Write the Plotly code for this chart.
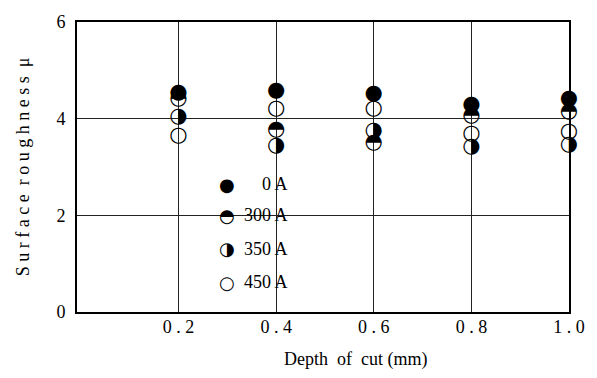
import plotly.graph_objects as go

# ---- data ----
depth = [0.2, 0.4, 0.6, 0.8, 1.0]
r_0A = [4.53, 4.58, 4.52, 4.28, 4.41]
r_300A = [4.42, 3.78, 3.50, 4.06, 4.15]
r_350A = [4.05, 3.45, 3.76, 3.42, 3.47]
r_450A = [3.65, 4.20, 4.20, 3.68, 3.72]
series_names = ["0 A", "300 A", "350 A", "450 A"]
x_ticks = [0.2, 0.4, 0.6, 0.8, 1.0]
x_ticklabels = ["0.2", "0.4", "0.6", "0.8", "1.0"]
y_ticks = [0, 2, 4, 6]
y_ticklabels = ["0", "2", "4", "6"]

SERIF = "Liberation Serif, Times New Roman, serif"
GLYPH_FONT = "DejaVu Sans"
glyphs = ["\u25CF", "\u25D3", "\u25D1", "\u25CB"]  # filled, upper-half, right-half, open


def spaced(s, sep=" "):
    return sep.join(list(s))


fig = go.Figure()
for vals, g, name in zip([r_0A, r_300A, r_350A, r_450A], glyphs, series_names):
    fig.add_trace(go.Scatter(
        x=depth, y=vals, mode="text", text=[g] * len(depth),
        textposition="middle center", cliponaxis=False,
        textfont=dict(family=GLYPH_FONT, size=21, color="black"),
        name=name, showlegend=False, hoverinfo="skip",
    ))

# custom legend
leg_y = [0.44, 0.334, 0.218, 0.102]
for g, name, yy in zip(glyphs, series_names, leg_y):
    fig.add_annotation(x=0.305, y=yy, xref="paper", yref="paper", text=g,
                       showarrow=False, xanchor="center", yanchor="middle",
                       font=dict(family=GLYPH_FONT, size=18, color="black"))
    fig.add_annotation(x=0.432, y=yy, xref="paper", yref="paper", text=name,
                       showarrow=False, xanchor="right", yanchor="middle",
                       font=dict(family=SERIF, size=18, color="black"))

# x-axis title (placed slightly right of centre, as in the original)
fig.add_annotation(x=0.566, y=-0.12, xref="paper", yref="paper",
                   text="Depth  of  cut (mm)", showarrow=False,
                   xanchor="center", yanchor="top",
                   font=dict(family=SERIF, size=18, color="black"))

fig.update_layout(
    width=597, height=378,
    margin=dict(l=77, r=25, t=19, b=66),
    paper_bgcolor="white", plot_bgcolor="white",
    font=dict(family=SERIF, size=18, color="black"),
    showlegend=False,
)
fig.update_xaxes(
    range=[-0.008, 1.0], tickvals=x_ticks,
    ticktext=[spaced(t) for t in x_ticklabels],
    tickfont=dict(family=SERIF, size=18),
    showgrid=True, gridcolor="#222", gridwidth=1,
    showline=True, linecolor="black", linewidth=2, mirror=True,
    ticks="", zeroline=False, ticklabelstandoff=-3,
)
fig.update_yaxes(
    range=[0, 6], tickvals=y_ticks, ticktext=y_ticklabels,
    tickfont=dict(family=SERIF, size=18),
    showgrid=True, gridcolor="#222", gridwidth=1,
    showline=True, linecolor="black", linewidth=2, mirror=True,
    ticks="", zeroline=False, ticklabelstandoff=6,
    title=dict(text="S u r f a c e  r o u g h n e s s  μ", standoff=22,
               font=dict(family=SERIF, size=18)),
)

fig.write_html("out.html")
